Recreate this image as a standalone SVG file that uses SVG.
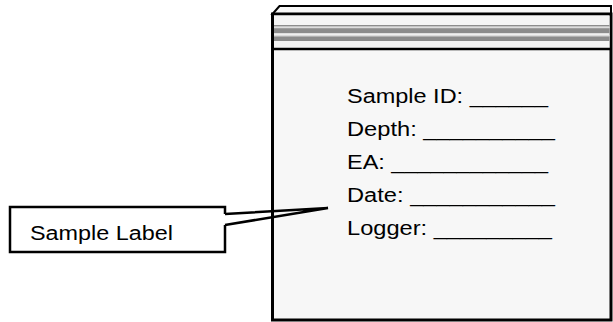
<svg xmlns="http://www.w3.org/2000/svg" width="613" height="322" viewBox="0 0 613 322">
  <style>
    .ln { stroke: #000; fill: none; stroke-linejoin: miter; }
    .t { font-family: "Liberation Sans", Arial, sans-serif; font-size: 20px; fill: #000; }
    .stripe { fill: #8c8c8c; }
  </style>
  <rect x="0" y="0" width="613" height="322" fill="#ffffff"/>
  <g id="bag">
    <path d="M272.5,14 L279.5,6 L611,6 L611,14 Z" fill="#f7f7f7" stroke="#000" stroke-width="2"/>
    <rect x="272.5" y="14" width="338.5" height="306" fill="#f7f7f7" stroke="#000" stroke-width="3"/>
    <rect x="274" y="15.5" width="335.5" height="33" fill="#f4f4f4"/>
    <rect class="stripe" x="274" y="25" width="335.5" height="1.6"/>
    <rect x="274" y="26.6" width="335.5" height="1.6" fill="#dcdcdc"/>
    <rect class="stripe" x="274" y="28.2" width="335.5" height="5"/>
    <rect x="274" y="34.8" width="335.5" height="1.6" fill="#dcdcdc"/>
    <rect class="stripe" x="274" y="36.4" width="335.5" height="4.6"/>
    <line class="ln" x1="272.5" y1="49" x2="611" y2="49" stroke-width="2.5"/>
    <text class="t" x="347" y="102.5" textLength="201" lengthAdjust="spacingAndGlyphs">Sample ID: ______</text>
    <text class="t" x="347" y="135.5" textLength="208" lengthAdjust="spacingAndGlyphs">Depth: __________</text>
    <text class="t" x="347" y="168.5" textLength="201" lengthAdjust="spacingAndGlyphs">EA: ____________</text>
    <text class="t" x="347" y="201.5" textLength="208" lengthAdjust="spacingAndGlyphs">Date: ___________</text>
    <text class="t" x="347" y="234.5" textLength="205" lengthAdjust="spacingAndGlyphs">Logger: _________</text>
  </g>
  <g id="sample-label">
    <path class="ln" d="M225,214 V207 H10 V252 H225 V225" fill="#ffffff" stroke-width="2.5"/>
    <text class="t" x="30" y="240" textLength="143" lengthAdjust="spacingAndGlyphs">Sample Label</text>
  </g>
  <g id="connectors">
    <polyline class="ln" points="225,214 328,208 225,225" stroke-width="2.5"/>
  </g>
</svg>
